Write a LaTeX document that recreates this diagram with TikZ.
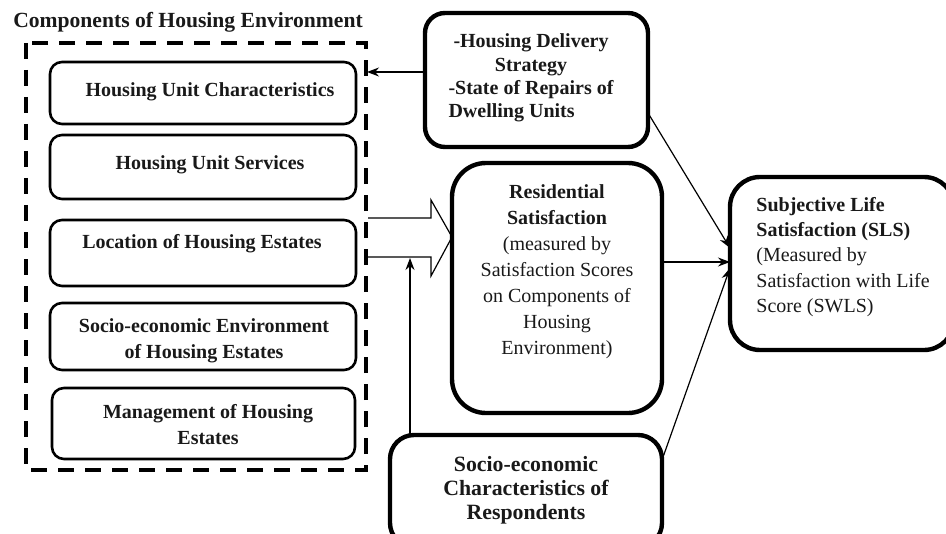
\documentclass[tikz,border=0pt]{standalone}
\usepackage{fontspec}
\setmainfont{Liberation Serif}
\usetikzlibrary{arrows.meta}
\begin{document}
\begin{tikzpicture}[x=0.5pt,y=-0.5pt,
  every node/.style={font=\fontsize{10}{13}\selectfont, text=black!90},
  inbox/.style={draw, line width=1.3pt, rounded corners=6pt, minimum width=153pt, inner sep=0pt},
  bigbox/.style={draw, line width=2.2pt, inner sep=0pt},
  txt/.style={inner sep=0pt, align=center},
  link/.style={line width=0.6pt, -{Stealth[length=6pt,width=4.5pt]}}]
\useasboundingbox (0,0) rectangle (946,534);

% title and dashed frame around the components
\node[txt, font=\fontsize{10.8}{13}\selectfont\bfseries] (title) at (188,22) {Components of Housing Environment};
\draw[line width=2pt, dash pattern=on 8pt off 5.5pt] (26,43) rectangle (366,470);
\coordinate (frameE) at (367,72);

% component boxes
\node[inbox, minimum height=31pt] (c1) at (203,93) {};
\node[txt, font=\fontsize{10}{13}\selectfont\bfseries] (t1) at (210,92) {Housing Unit Characteristics};
\node[inbox, minimum height=32pt] (c2) at (203,167) {};
\node[txt, font=\fontsize{10}{13}\selectfont\bfseries] (t2) at (210,165) {Housing Unit Services};
\node[inbox, minimum height=33pt] (c3) at (203,253) {};
\node[txt, font=\fontsize{10}{13}\selectfont\bfseries] (t3) at (202,244) {Location of Housing Estates};
\node[inbox, minimum height=33.5pt] (c4) at (203,336.5) {};
\node[txt, font=\fontsize{10}{13}\selectfont\bfseries] (t4) at (204,341) {Socio-economic Environment\\of Housing Estates};
\node[inbox, minimum height=35.5pt, minimum width=151.5pt] (c5) at (203.5,423.5) {};
\node[txt, font=\fontsize{10}{13}\selectfont\bfseries] (t5) at (208,425) {Management of Housing\\Estates};

% housing delivery box
\node[bigbox, rounded corners=10pt, minimum width=111.5pt, minimum height=67pt] (hd) at (536.5,80) {};
\node[inner sep=0pt, font=\fontsize{10}{11.6}\selectfont\bfseries] (hdt) at (531,78)
  {\begin{tabular}{@{}l@{}}\multicolumn{1}{@{}c@{}}{-Housing Delivery}\\\multicolumn{1}{@{}c@{}}{Strategy}\\-State of Repairs of\\Dwelling Units\end{tabular}};
\coordinate (hdW) at (425,72);
\coordinate (hdSE) at (648,113);

% residential satisfaction box
\node[bigbox, rounded corners=17pt, minimum width=105pt, minimum height=125pt] (rs) at (557,288) {};
\node[txt] (rst) at (557,272) {\textbf{Residential}\\\textbf{Satisfaction}\\(measured by\\Satisfaction Scores\\on Components of\\Housing\\Environment)};

% subjective life satisfaction box
\node[bigbox, rounded corners=15pt, minimum width=112pt, minimum height=86.5pt] (sls) at (842,263.5) {};
\node[inner sep=0pt, align=left, anchor=west, font=\fontsize{10}{12.6}\selectfont] (slst) at (756,257)
  {\textbf{Subjective Life}\\\textbf{Satisfaction (SLS)}\\(Measured by\\Satisfaction with Life\\Score (SWLS)};
\coordinate (slsA) at (730,248);
\coordinate (slsB) at (730,262);
\coordinate (slsC) at (730,268);

% socio-economic characteristics box
\node[bigbox, rounded corners=12pt, minimum width=136pt, minimum height=56pt] (se) at (526,491) {};
\node[txt, font=\fontsize{10.9}{12}\selectfont\bfseries] (set) at (526,490) {Socio-economic\\Characteristics of\\Respondents};
\coordinate (seN) at (410,435);
\coordinate (seE) at (662,460);
\coordinate (shaftB) at (410,258);
\coordinate (rsE) at (662,262);

% hollow block arrow from the components to residential satisfaction
\draw[line width=0.6pt, line join=miter] (368,218) -- (431,218) -- (431,200) -- (452,237)
  -- (431,276) -- (431,257) -- (368,257);

% connectors
\draw[link] (hdW) -- (frameE);
\draw[link] (seN) -- (shaftB);
\draw[link] (hdSE) -- (slsA);
\draw[link] (rsE) -- (slsB);
\draw[link] (seE) -- (slsC);
\end{tikzpicture}
\end{document}
